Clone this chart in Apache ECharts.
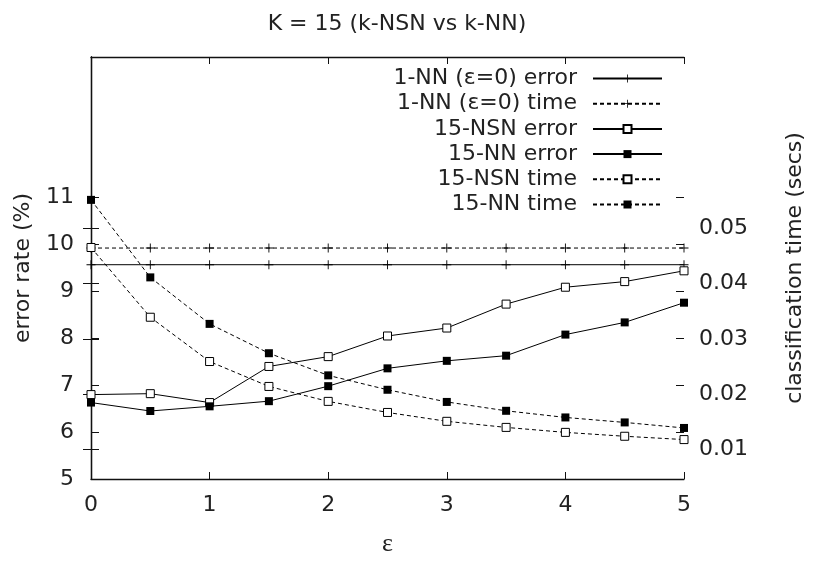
<!DOCTYPE html>
<html>
<head>
<meta charset="utf-8">
<script src="https://cdn.jsdelivr.net/npm/echarts@6/dist/echarts.min.js"></script>
<style>html,body{margin:0;padding:0;background:#fff}#c{width:814px;height:562px}</style>
</head>
<body>
<div id="c"></div>
<script>
const eps = [0, 0.5, 1, 1.5, 2, 2.5, 3, 3.5, 4, 4.5, 5];
const nn1Error = [9.57, 9.57, 9.57, 9.57, 9.57, 9.57, 9.57, 9.57, 9.57, 9.57, 9.57];
const nn1Time = [0.0464, 0.0464, 0.0464, 0.0464, 0.0464, 0.0464, 0.0464, 0.0464, 0.0464, 0.0464, 0.0464];
const nsnError = [6.80, 6.82, 6.63, 7.40, 7.61, 8.05, 8.22, 8.73, 9.09, 9.21, 9.44];
const nnError = [6.63, 6.45, 6.55, 6.66, 6.98, 7.36, 7.52, 7.63, 8.08, 8.34, 8.76];
const nsnTime = [0.0465, 0.0339, 0.0259, 0.0214, 0.0187, 0.0167, 0.0151, 0.0140, 0.0131, 0.0124, 0.0118];
const nnTime = [0.0551, 0.0411, 0.0327, 0.0274, 0.0234, 0.0208, 0.0186, 0.0170, 0.0158, 0.0149, 0.0139];
const xTicks = [0, 1, 2, 3, 4, 5];
const errTicks = [5, 6, 7, 8, 9, 10, 11];
const timeTicks = [0.01, 0.02, 0.03, 0.04, 0.05];
const names = ['1-NN (ε=0) error', '1-NN (ε=0) time', '15-NSN error', '15-NN error', '15-NSN time', '15-NN time'];

const FONT = 'DejaVu Sans';
const plus = 'path://M0,4.5h10v1h-10z M4.5,0h1v10h-1z';
const pairs = (ys) => eps.map((x, i) => [x, ys[i]]);
const axisLine = { show: true, lineStyle: { color: '#111', width: 1.3 } };
const tickIn = (vals, len) => ({ show: true, inside: true, length: len, customValues: vals, lineStyle: { color: '#111', width: 1 } });

function series(name, ys, yIdx, dashed, sym) {
  const s = {
    name: name, type: 'line', data: pairs(ys), yAxisIndex: yIdx, xAxisIndex: 0,
    lineStyle: { color: '#000', width: 1, type: dashed ? [4, 3] : 'solid' },
    symbolSize: 8, showSymbol: true, animation: false
  };
  if (sym === 'plus') { s.symbol = plus; s.symbolSize = 9; s.itemStyle = { color: '#000' }; }
  else if (sym === 'open') { s.symbol = 'rect'; s.itemStyle = { color: '#fff', borderColor: '#000', borderWidth: 1 }; }
  else { s.symbol = 'rect'; s.itemStyle = { color: '#000' }; }
  return s;
}

const chart = echarts.init(document.getElementById('c'), null, { renderer: 'canvas' });
chart.setOption({
  animation: false,
  backgroundColor: '#fff',
  textStyle: { fontFamily: FONT },
  title: {
    text: 'K = 15 (k-NSN vs k-NN)', left: 392, top: 8, textAlign: 'center',
    textStyle: { fontFamily: FONT, fontSize: 22, fontWeight: 'normal', color: '#222' }
  },
  grid: { left: 91, right: 121, top: 57, bottom: 77 },
  legend: {
    data: names, orient: 'vertical', align: 'right', right: 151, top: 67.5, padding: 0,
    itemWidth: 69, itemHeight: 10, itemGap: 3.2, selectedMode: false,
    textStyle: { fontFamily: FONT, fontSize: 22, color: '#222', lineHeight: 22, padding: [0, 11, 0, 0] }
  },
  xAxis: [
    {
      type: 'value', min: 0, max: 5, interval: 1, position: 'bottom',
      name: 'ε', nameLocation: 'middle', nameGap: 52,
      nameTextStyle: { fontFamily: 'Liberation Serif', fontSize: 26, color: '#222' },
      axisLine: axisLine, axisTick: tickIn(xTicks, 7), splitLine: { show: false },
      axisLabel: { fontFamily: FONT, fontSize: 22, color: '#222', margin: 15, customValues: xTicks }
    },
    {
      type: 'value', min: 0, max: 5, interval: 1, position: 'top',
      axisLine: axisLine, axisTick: tickIn(xTicks, 7), splitLine: { show: false },
      axisLabel: { show: false }
    }
  ],
  yAxis: [
    {
      type: 'value', min: 5, max: 14, position: 'left',
      name: 'error rate (%)', nameLocation: 'middle', nameGap: 57, nameRotate: 90,
      nameTextStyle: { fontFamily: FONT, fontSize: 22, color: '#222' },
      axisLine: axisLine, axisTick: tickIn(errTicks, 8), splitLine: { show: false },
      axisLabel: { fontFamily: FONT, fontSize: 22, color: '#222', margin: 17, customValues: errTicks }
    },
    {
      type: 'value', min: 0.00468, max: 0.08091, position: 'right',
      name: 'classification time (secs)', nameLocation: 'middle', nameGap: 100, nameRotate: 90,
      nameTextStyle: { fontFamily: FONT, fontSize: 22, color: '#222' },
      axisLine: axisLine, axisTick: tickIn(timeTicks, 8), splitLine: { show: false },
      axisLabel: { fontFamily: FONT, fontSize: 22, color: '#222', margin: 15, customValues: timeTicks,
        formatter: (v) => v.toFixed(2) }
    },
    {
      type: 'value', min: 5, max: 14, position: 'right',
      axisLine: { show: false }, axisTick: tickIn(errTicks, 8), splitLine: { show: false },
      axisLabel: { show: false }
    },
    {
      type: 'value', min: 0.00468, max: 0.08091, position: 'left',
      axisLine: { show: false }, axisTick: tickIn(timeTicks, 8), splitLine: { show: false },
      axisLabel: { show: false }
    }
  ],
  series: [
    series(names[0], nn1Error, 0, false, 'plus'),
    series(names[1], nn1Time, 1, true, 'plus'),
    series(names[2], nsnError, 0, false, 'open'),
    series(names[3], nnError, 0, false, 'filled'),
    series(names[4], nsnTime, 1, true, 'open'),
    series(names[5], nnTime, 1, true, 'filled')
  ]
});
</script>
</body>
</html>
